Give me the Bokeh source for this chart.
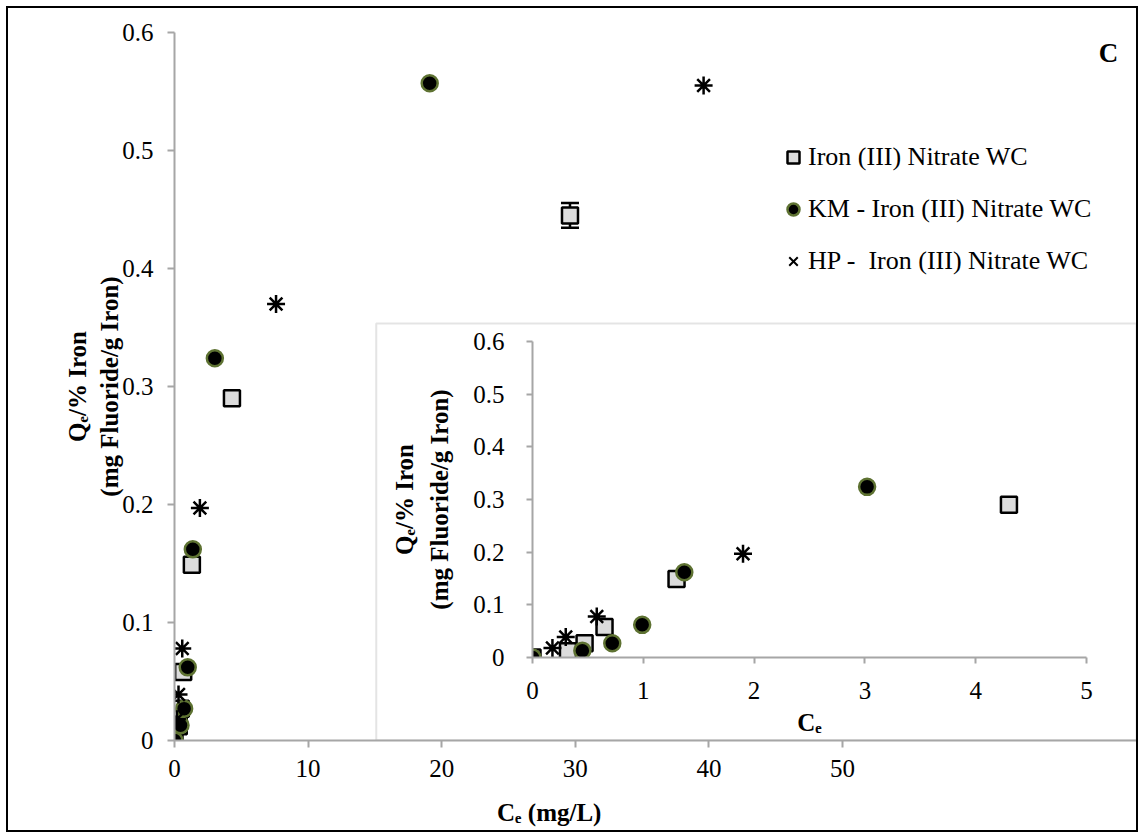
from bokeh.plotting import figure
from bokeh.models import (Range1d, FixedTicker, Legend, LegendItem, Label, Title,
                          Whisker, ColumnDataSource, TeeHead, BoxAnnotation)
from bokeh.layouts import column
from bokeh.embed import file_html
from bokeh.resources import INLINE

# ---------------- data ----------------
sq_label = "Iron (III) Nitrate WC"
km_label = "KM - Iron (III) Nitrate WC"
hp_label = "HP -  Iron (III) Nitrate WC"

sq_x = [0, 0.32, 0.47, 0.65, 1.3, 4.3, 29.6]
sq_y = [0, 0.012, 0.027, 0.058, 0.149, 0.29, 0.445]
sq_err = [0, 0, 0, 0, 0, 0, 0.0105]

km_x = [0, 0.45, 0.72, 0.99, 1.37, 3.02, 19.1]
km_y = [0, 0.013, 0.027, 0.062, 0.162, 0.324, 0.557]

hp_x = [0.18, 0.30, 0.58, 1.9, 7.6, 39.6]
hp_y = [0.018, 0.039, 0.078, 0.197, 0.37, 0.555]

main_x_ticks = [0, 10, 20, 30, 40, 50]
y_ticks = [0, 0.1, 0.2, 0.3, 0.4, 0.5, 0.6]
y_tick_labels = ["0", "0.1", "0.2", "0.3", "0.4", "0.5", "0.6"]
inset_x_ticks = [0, 1, 2, 3, 4, 5]

x_title = "Cₑ (mg/L)"
y_title_1 = "Qₑ/% Iron"
y_title_2 = "(mg Fluoride/g Iron)"
inset_x_title = "Cₑ"
panel_tag = "C"

# layout of the inset box, in main-axis units (a frame decoration)
INSET_BOX = dict(left=15.1, right=72.0, bottom=0.0, top=0.3534)

FONT = "Liberation Serif"
GREY = "#A6A6A6"
SQ_FILL = "#DCDCDC"
KM_EDGE = "#5E7232"
NBSP = "\u00a0"


def style_axis(ax, label_size="25px", tick_len=7):
    ax.axis_line_color = GREY
    ax.axis_line_width = 2
    ax.major_tick_line_color = GREY
    ax.major_tick_line_width = 2
    ax.major_tick_in = 0
    ax.major_tick_out = tick_len
    ax.minor_tick_line_color = None
    ax.major_label_text_font = FONT
    ax.major_label_text_font_size = label_size
    ax.major_label_text_color = "black"
    ax.axis_label_text_font = FONT
    ax.axis_label_text_font_style = "bold"
    ax.axis_label_text_color = "black"


def add_series(fig):
    r_sq = fig.scatter(sq_x, sq_y, marker="square", size=16, fill_color=SQ_FILL,
                       line_color="black", line_width=2.5)
    r_km = fig.scatter(km_x, km_y, marker="circle", size=16, fill_color="black",
                       line_color=KM_EDGE, line_width=2.5)
    r_hp = fig.scatter(hp_x, hp_y, marker="asterisk", size=18,
                       line_color="black", line_width=2.5)
    return r_sq, r_km, r_hp


# ---------------- main figure ----------------
main = figure(frame_width=962, frame_height=708,
              x_range=Range1d(0, 72.0), y_range=Range1d(0, 0.6),
              output_backend="svg", toolbar_location=None,
              min_border_left=166, min_border_right=0,
              min_border_top=24, min_border_bottom=90)
main.xgrid.visible = False
main.ygrid.visible = False
main.outline_line_color = None
main.background_fill_color = "white"
main.border_fill_color = "white"

style_axis(main.xaxis[0])
style_axis(main.yaxis[0])
main.xaxis.ticker = FixedTicker(ticks=main_x_ticks)
main.yaxis.ticker = FixedTicker(ticks=y_ticks)
main.yaxis.major_label_overrides = dict(zip(y_ticks, y_tick_labels))
main.xaxis.major_label_standoff = 12
main.yaxis.major_label_standoff = 14
main.yaxis.axis_label = y_title_1 + "\n" + y_title_2
main.yaxis.axis_label_text_font_size = "25px"
main.yaxis.axis_label_text_line_height = 1.2
main.yaxis.axis_label_standoff = -4
# x title sits left of the frame centre (as in the reference): pad with
# non-breaking spaces so the centred label shifts left
main.xaxis.axis_label = x_title + NBSP * 34
main.xaxis.axis_label_text_font_size = "25px"
main.xaxis.axis_label_standoff = 19

# grey frame of the inset panel
main.add_layout(BoxAnnotation(fill_color=None, line_color=GREY, line_width=2,
                              level="underlay", **INSET_BOX))

err_src = ColumnDataSource(data=dict(
    x=[x for x, e in zip(sq_x, sq_err) if e > 0],
    upper=[y + e for y, e in zip(sq_y, sq_err) if e > 0],
    lower=[y - e for y, e in zip(sq_y, sq_err) if e > 0]))
main.add_layout(Whisker(source=err_src, base="x", upper="upper", lower="lower",
                        line_color="black", line_width=2.5,
                        upper_head=TeeHead(size=18, line_width=2.5, line_color="black"),
                        lower_head=TeeHead(size=18, line_width=2.5, line_color="black")))

m_sq, m_km, m_hp = add_series(main)
# legend-only glyph for the HP series (plain cross in the legend)
nan = float("nan")
m_hp_leg = main.scatter(x=[nan], y=[nan], marker="x", size=14, line_color="black",
                        line_width=2)

legend = Legend(items=[LegendItem(label=sq_label, renderers=[m_sq]),
                       LegendItem(label=km_label, renderers=[m_km]),
                       LegendItem(label=hp_label, renderers=[m_hp_leg])],
                location=(604, 461), orientation="vertical",
                glyph_width=30, glyph_height=36, label_standoff=0,
                spacing=16, padding=0, margin=0, label_height=36,
                border_line_color=None, background_fill_alpha=0,
                label_text_font=FONT, label_text_font_size="26px",
                label_text_color="black")
main.add_layout(legend)

main.add_layout(Label(x=69.9, y=0.583, text=panel_tag, text_font=FONT,
                      text_font_style="bold", text_font_size="27px",
                      text_color="black",
                      text_align="center", text_baseline="middle"))

main.styles = {"outline": "2px solid black"}

# ---------------- inset figure (transparent, overlaid) ----------------
inset = figure(frame_width=554, frame_height=316,
               x_range=Range1d(0, 5.0), y_range=Range1d(0, 0.6),
               output_backend="svg", toolbar_location=None,
               min_border_left=157, min_border_right=30,
               min_border_top=18, min_border_bottom=83)
inset.xgrid.visible = False
inset.ygrid.visible = False
inset.outline_line_color = None
inset.background_fill_color = None
inset.border_fill_color = None
style_axis(inset.xaxis[0], tick_len=6)
style_axis(inset.yaxis[0], tick_len=6)
inset.xaxis.ticker = FixedTicker(ticks=inset_x_ticks)
inset.yaxis.ticker = FixedTicker(ticks=y_ticks)
inset.yaxis.major_label_overrides = dict(zip(y_ticks, y_tick_labels))
inset.xaxis.major_label_standoff = 18
inset.yaxis.major_label_standoff = 22
inset.xaxis.axis_label = inset_x_title
inset.xaxis.axis_label_text_font_size = "25px"
inset.xaxis.axis_label_standoff = 7

for txt, stand in ((y_title_2, 33), (y_title_1, -21)):
    inset.add_layout(Title(text=txt, align="center", vertical_align="middle",
                           standoff=stand, text_font=FONT,
                           text_font_style="bold", text_font_size="25px",
                           text_color="black"), "left")

add_series(inset)

inset.margin = (-507, 0, 90, 358)

layout = column(main, inset, spacing=0, margin=(8, 0, 0, 8))
open("out.html", "w").write(file_html(layout, INLINE))
